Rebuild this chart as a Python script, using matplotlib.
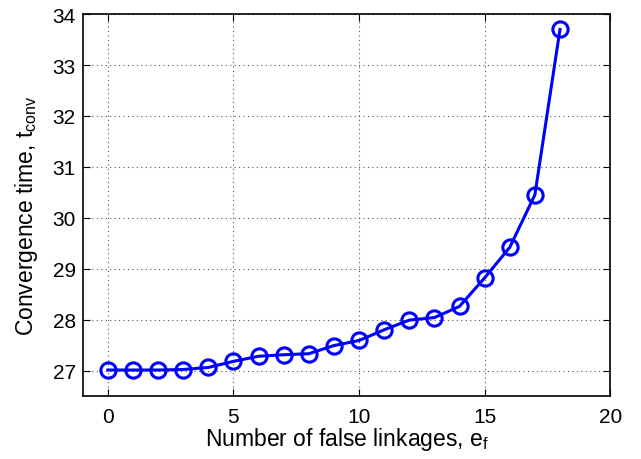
import matplotlib
matplotlib.use("Agg")
import matplotlib.pyplot as plt

plt.rcParams['font.family'] = ['Liberation Sans', 'DejaVu Sans']

# Datos
falsos = [0, 1, 2, 3, 4, 5, 6, 7, 8, 9, 10, 11, 12, 13, 14, 15, 16, 17, 18]
t_conv = [27.01, 27.01, 27.01, 27.02, 27.06, 27.18, 27.28, 27.31, 27.33, 27.49,
          27.59, 27.80, 27.99, 28.04, 28.26, 28.82, 29.42, 30.45, 33.70]
xticks = [0, 5, 10, 15, 20]
yticks = [27, 28, 29, 30, 31, 32, 33, 34]

fig = plt.figure(figsize=(6.41, 4.60), dpi=100)
ax = fig.add_axes([0.129, 0.137, 0.823, 0.830])

ax.plot(falsos, t_conv, color="#0000ff", linewidth=2.2,
        marker="o", markersize=11, markerfacecolor="none",
        markeredgecolor="#0000ff", markeredgewidth=2.2)

ax.set_xlim(-1, 20)
ax.set_ylim(26.5, 34)
ax.set_xticks(xticks)
ax.set_yticks(yticks)
ax.tick_params(direction="in", top=True, right=True, labelsize=15, length=5)
ax.tick_params(axis="x", pad=8)
ax.tick_params(axis="y", pad=5)
for s in ax.spines.values():
    s.set_linewidth(1.2)

ax.grid(True, linestyle=(0, (1, 3)), color="#555555", linewidth=0.8)
ax.set_xlabel("Number of false linkages, $\\mathregular{e_f}$", fontsize=16.5, labelpad=-1)
ax.set_ylabel("Convergence time, $\\mathregular{t_{conv}}$", fontsize=16.5, labelpad=9)
ax.yaxis.label.set_y(0.475)

fig.savefig("out.png", dpi=100)
